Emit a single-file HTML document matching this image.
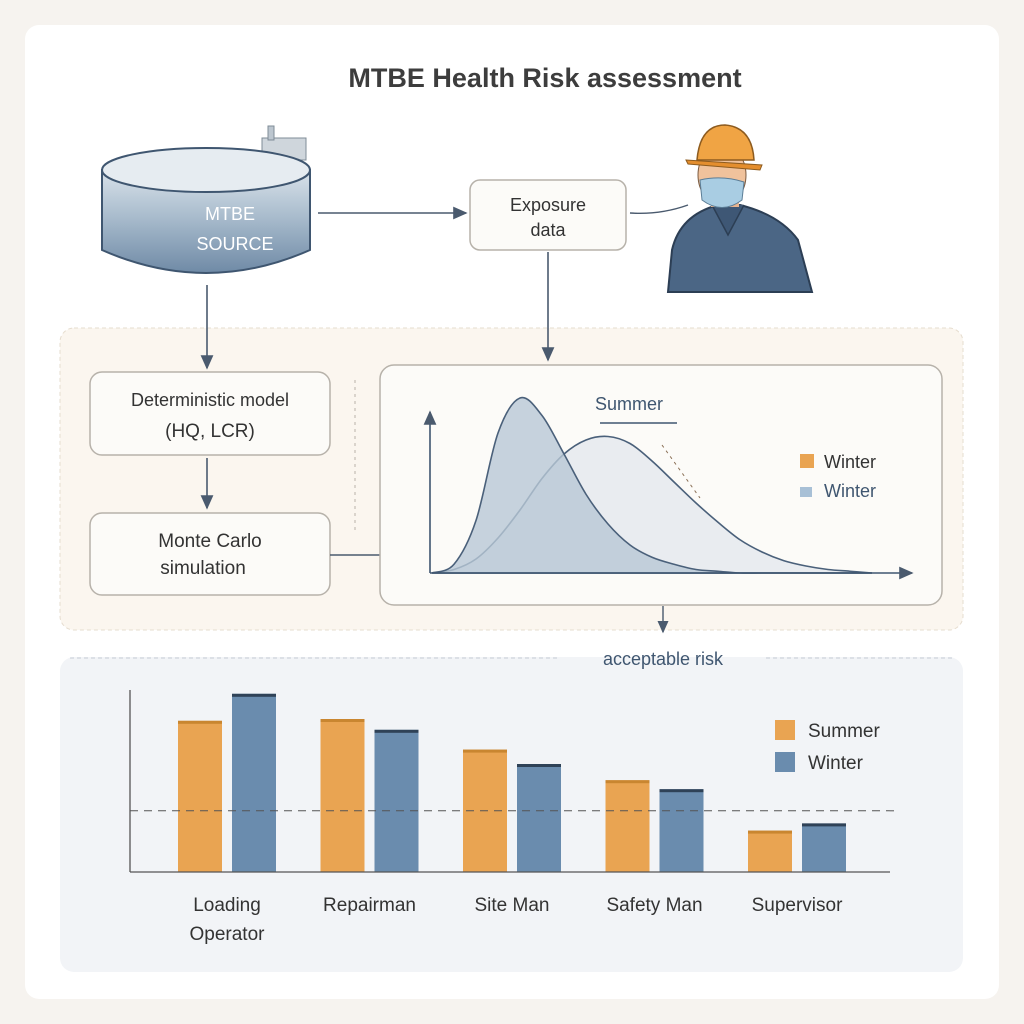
<!DOCTYPE html>
<html><head><meta charset="utf-8"><style>
body{margin:0;width:1024px;height:1024px;background:#f6f3ef;font-family:"Liberation Sans",sans-serif;overflow:hidden}
svg{position:absolute;left:0;top:0}
</style></head><body>
<svg width="1024" height="1024" viewBox="0 0 1024 1024">
<defs>
<marker id="ah" markerWidth="10" markerHeight="10" refX="8" refY="5" orient="auto"><path d="M0,1 L9,5 L0,9 Z" fill="#4a5a6e"/></marker>
<linearGradient id="tank" x1="0" y1="0" x2="0" y2="1"><stop offset="0" stop-color="#d9e2ea"/><stop offset="0.45" stop-color="#a9bccd"/><stop offset="1" stop-color="#6f8aa6"/></linearGradient>
</defs>
<rect x="25" y="25" width="974" height="974" rx="14" fill="#ffffff"/>
<text x="545" y="87" text-anchor="middle" font-size="27" font-weight="bold" fill="#3d3d3d">MTBE Health Risk assessment</text>

<!-- tank -->
<g>
<rect x="262" y="138" width="44" height="22" fill="#cfd6dc" stroke="#7f8c97"/>
<rect x="268" y="126" width="6" height="14" fill="#bcc6cf" stroke="#7f8c97"/>
<path d="M102,170 L102,250 Q206,296 310,250 L310,170 Z" fill="url(#tank)" stroke="#3f5670" stroke-width="2"/>
<ellipse cx="206" cy="170" rx="104" ry="22" fill="#e6ecf1" stroke="#3f5670" stroke-width="2"/>
<text x="230" y="220" text-anchor="middle" font-size="18" fill="#fff">MTBE</text>
<text x="235" y="250" text-anchor="middle" font-size="18" fill="#fff">SOURCE</text>
</g>
<line x1="318" y1="213" x2="466" y2="213" stroke="#4a5a6e" stroke-width="1.6" marker-end="url(#ah)"/>
<rect x="470" y="180" width="156" height="70" rx="10" fill="#fcfbf8" stroke="#b7b2aa" stroke-width="1.5"/>
<text x="548" y="211" text-anchor="middle" font-size="18" fill="#333">Exposure</text>
<text x="548" y="236" text-anchor="middle" font-size="18" fill="#333">data</text>
<path d="M630,213 Q660,215 688,205" fill="none" stroke="#4a5a6e" stroke-width="1.4"/>
<!-- worker -->
<g>
<path d="M668,292 L672,250 Q680,215 718,205 L740,205 Q780,215 798,240 L812,292 Z" fill="#4b6685" stroke="#2c3e54" stroke-width="2"/>
<path d="M712,205 L728,235 L744,205" fill="#3e5775" stroke="#2c3e54" stroke-width="1.5"/>
<rect x="711" y="185" width="28" height="22" fill="#e8b48f"/>
<ellipse cx="722" cy="175" rx="24" ry="30" fill="#f0c29c" stroke="#7a5a40"/>
<path d="M700,180 Q722,175 744,182 L742,200 Q722,215 702,200 Z" fill="#a9cde3" stroke="#5b7d96"/>
<path d="M697,160 Q700,125 725,125 Q752,127 754,160 Z" fill="#f0a444" stroke="#8d5b1f" stroke-width="1.5"/>
<path d="M686,160 L762,165 L760,170 L688,164 Z" fill="#e48e2e" stroke="#8d5b1f"/>
</g>

<!-- middle panel -->
<rect x="60" y="328" width="903" height="302" rx="14" fill="#fbf6ef" stroke="#e6ddcf" stroke-dasharray="4 3"/>
<line x1="207" y1="285" x2="207" y2="368" stroke="#4a5a6e" stroke-width="1.6" marker-end="url(#ah)"/>
<line x1="548" y1="252" x2="548" y2="360" stroke="#4a5a6e" stroke-width="1.6" marker-end="url(#ah)"/>
<rect x="90" y="372" width="240" height="83" rx="12" fill="#fcfbf8" stroke="#b7b2aa" stroke-width="1.5"/>
<text x="210" y="406" text-anchor="middle" font-size="18" fill="#333">Deterministic model</text>
<text x="210" y="437" text-anchor="middle" font-size="19" fill="#333">(HQ, LCR)</text>
<line x1="207" y1="458" x2="207" y2="508" stroke="#4a5a6e" stroke-width="1.6" marker-end="url(#ah)"/>
<rect x="90" y="513" width="240" height="82" rx="12" fill="#fcfbf8" stroke="#b7b2aa" stroke-width="1.5"/>
<text x="210" y="547" text-anchor="middle" font-size="19" fill="#333">Monte Carlo</text>
<text x="203" y="574" text-anchor="middle" font-size="19" fill="#333">simulation</text>
<line x1="330" y1="555" x2="380" y2="555" stroke="#4a5a6e" stroke-width="1.4"/>
<line x1="355" y1="380" x2="355" y2="530" stroke="#b9b3aa" stroke-dasharray="3 4"/>
<rect x="380" y="365" width="562" height="240" rx="14" fill="#fcfbf8" stroke="#b7b2aa" stroke-width="1.5"/>
<g id="dist"></g>
<line x1="430" y1="573" x2="912" y2="573" stroke="#3f5670" stroke-width="1.6" marker-end="url(#ah)"/>
<line x1="430" y1="573" x2="430" y2="412" stroke="#3f5670" stroke-width="1.6" marker-end="url(#ah)"/>
<text x="595" y="410" font-size="18" fill="#3f5670">Summer</text>
<line x1="600" y1="423" x2="677" y2="423" stroke="#3f5670" stroke-width="1.5"/>
<line x1="662" y1="445" x2="700" y2="498" stroke="#8a6f55" stroke-dasharray="3 4"/>
<rect x="800" y="454" width="14" height="14" fill="#e9a452"/>
<text x="824" y="468" font-size="18" fill="#333">Winter</text>
<rect x="800" y="487" width="12" height="10" fill="#a8c0d6"/>
<text x="824" y="497" font-size="18" fill="#3f5670">Winter</text>
<line x1="663" y1="606" x2="663" y2="632" stroke="#4a5a6e" stroke-width="1.4" marker-end="url(#ah)"/>

<!-- bottom panel -->
<rect x="60" y="657" width="903" height="315" rx="14" fill="#f2f4f7"/>
<line x1="70" y1="658" x2="560" y2="658" stroke="#c5ccd6" stroke-dasharray="4 3"/>
<line x1="766" y1="658" x2="955" y2="658" stroke="#c5ccd6" stroke-dasharray="4 3"/>
<text x="663" y="665" text-anchor="middle" font-size="18" fill="#3f5670">acceptable risk</text>
<g id="bars"></g>
<line x1="130" y1="690" x2="130" y2="872" stroke="#555" stroke-width="1.3"/>
<line x1="130" y1="872" x2="890" y2="872" stroke="#555" stroke-width="1.3"/>
<rect x="775" y="720" width="20" height="20" fill="#e9a452"/>
<text x="808" y="737" font-size="19" fill="#333">Summer</text>
<rect x="775" y="752" width="20" height="20" fill="#6a8cae"/>
<text x="808" y="769" font-size="19" fill="#333">Winter</text>
</svg>
<script>
// distribution data
const distX = [0,1,2,3,4,5,6,7,8,9,10,11,12,13,14,15,16,17,18,19,20];
const summerDensity = [0,5,30,80,100,90,68,45,28,16,9,5,2,1,0,0,0,0,0,0,0];
const winterDensity = [0,2,8,20,36,54,68,76,78,74,64,52,40,29,19,12,7,4,2,1,0];
// bar data
const categories = ["Loading Operator","Repairman","Site Man","Safety Man","Supervisor"];
const summerValues = [84,85,68,51,23];
const winterValues = [99,79,60,46,27];
const riskThreshold = 34;

const NS="http://www.w3.org/2000/svg";
const dx=v=>432+v*22, dy=v=>573-v*1.75;
function smooth(pts){let d=`M${pts[0][0]},${pts[0][1]}`;for(let i=0;i<pts.length-1;i++){const p0=pts[Math.max(0,i-1)],p1=pts[i],p2=pts[i+1],p3=pts[Math.min(pts.length-1,i+2)];d+=` C${p1[0]+(p2[0]-p0[0])/6},${p1[1]+(p2[1]-p0[1])/6} ${p2[0]-(p3[0]-p1[0])/6},${p2[1]-(p3[1]-p1[1])/6} ${p2[0]},${p2[1]}`;}return d;}
const dist=document.getElementById('dist');
[[winterDensity,'#e3e8ee','winter-curve'],[summerDensity,'#b8c8d6','summer-curve']].forEach(([arr,fill,name])=>{
  const pts=distX.map((x,i)=>[dx(x),dy(arr[i])]);
  const p=document.createElementNS(NS,'path');
  p.setAttribute('d',smooth(pts)+` L${dx(distX[distX.length-1])},573 L${dx(0)},573 Z`);
  p.setAttribute('fill',fill);p.setAttribute('fill-opacity','0.8');
  p.setAttribute('stroke','#4a607a');p.setAttribute('stroke-width','1.6');
  
  
  dist.appendChild(p);
});
const bars=document.getElementById('bars');
const by=v=>872-v*1.8;
const centers=categories.map((c,i)=>227+i*142.5);
categories.forEach((c,i)=>{
  [[summerValues[i],'#e9a452','#c98630',-49],[winterValues[i],'#6a8cae','#2f4257',5]].forEach(([v,f,s,off],k)=>{
    const r=document.createElementNS(NS,'rect');
    r.setAttribute('x',centers[i]+off);r.setAttribute('y',by(v));r.setAttribute('width',44);r.setAttribute('height',872-by(v));r.setAttribute('fill',f);
    
    
    bars.appendChild(r);
    const t=document.createElementNS(NS,'rect');
    t.setAttribute('x',centers[i]+off);t.setAttribute('y',by(v));t.setAttribute('width',44);t.setAttribute('height',3);t.setAttribute('fill',s);
    
    
    bars.appendChild(t);
  });
  const words=c==="Loading Operator"?["Loading","Operator"]:[c];
  words.forEach((w,j)=>{
    const t=document.createElementNS(NS,'text');
    t.setAttribute('x',centers[i]);t.setAttribute('y',911+j*29);t.setAttribute('text-anchor','middle');t.setAttribute('font-size','19');t.setAttribute('fill','#333');
    t.textContent=w;
    
    
    bars.appendChild(t);
  });
});
const th=document.createElementNS(NS,'line');
th.setAttribute('x1',130);th.setAttribute('x2',900);th.setAttribute('y1',by(riskThreshold));th.setAttribute('y2',by(riskThreshold));
th.setAttribute('stroke','#555');th.setAttribute('stroke-dasharray','8 6');


bars.appendChild(th);
</script>
</body></html>
